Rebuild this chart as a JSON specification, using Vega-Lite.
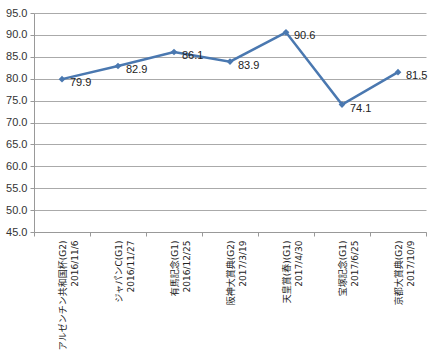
{
  "$schema": "https://vega.github.io/schema/vega-lite/v6.json",
  "width": 392,
  "height": 219,
  "padding": {"left": 5, "top": 7, "right": 5, "bottom": 2},
  "background": "white",
  "config": {
    "view": {"stroke": null},
    "font": "Noto Sans CJK JP"
  },
  "data": {
    "values": [
      {"race": "アルゼンチン共和国杯(G2)|2016/11/6", "value": 79.9},
      {"race": "ジャパンC(G1)|2016/11/27", "value": 82.9},
      {"race": "有馬記念(G1)|2016/12/25", "value": 86.1},
      {"race": "阪神大賞典(G2)|2017/3/19", "value": 83.9},
      {"race": "天皇賞(春)(G1)|2017/4/30", "value": 90.6},
      {"race": "宝塚記念(G1)|2017/6/25", "value": 74.1},
      {"race": "京都大賞典(G2)|2017/10/9", "value": 81.5}
    ]
  },
  "encoding": {
    "x": {
      "field": "race",
      "type": "nominal",
      "sort": null,
      "title": null,
      "axis": {
        "labelAngle": -90,
        "labelExpr": "split(datum.label, '|')",
        "labelFont": "DejaVu Sans, Noto Sans CJK JP",
        "labelFontSize": 9,
        "labelColor": "#222",
        "labelLineHeight": 12,
        "labelPadding": 4,
        "tickBand": "extent",
        "tickColor": "#999",
        "tickSize": 4,
        "domainColor": "#999",
        "grid": false,
        "labelLimit": 200
      }
    },
    "y": {
      "field": "value",
      "type": "quantitative",
      "title": null,
      "scale": {"domain": [45, 95], "nice": false, "zero": false},
      "axis": {
        "values": [45, 50, 55, 60, 65, 70, 75, 80, 85, 90, 95],
        "format": ".1f",
        "labelFont": "Liberation Sans",
        "labelFontSize": 11,
        "labelColor": "#333",
        "labelPadding": 3,
        "tickSize": 4,
        "tickColor": "#999",
        "domainColor": "#999",
        "gridColor": "#aaa",
        "gridWidth": 1
      }
    }
  },
  "layer": [
    {
      "mark": {"type": "line", "color": "#4a78b0", "strokeWidth": 2.5, "point": {"shape": "diamond", "size": 45, "filled": true, "color": "#4a78b0", "opacity": 1}}
    },
    {
      "mark": {"type": "text", "align": "left", "baseline": "middle", "dx": 8, "dy": 4, "font": "Liberation Sans", "fontSize": 11, "color": "#222"},
      "encoding": {"text": {"field": "value", "type": "quantitative", "format": ".1f"}}
    }
  ]
}
